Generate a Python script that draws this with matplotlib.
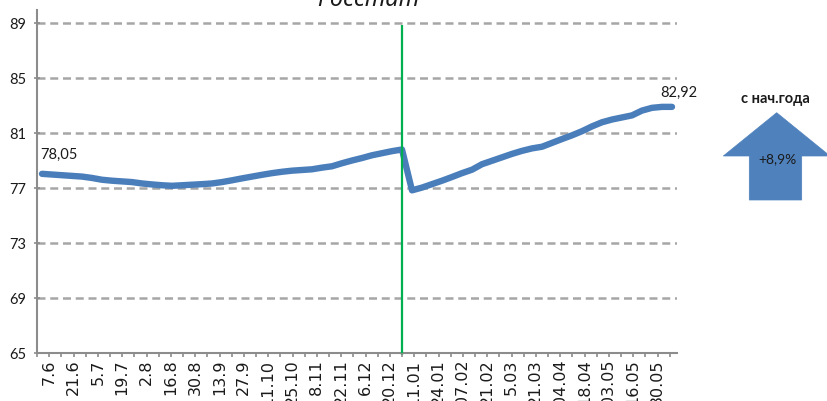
import numpy as np
import matplotlib
matplotlib.use("Agg")
import matplotlib.pyplot as plt
from matplotlib import font_manager as fm
from matplotlib.patches import Polygon

# ---------------- data ----------------
cat_labels = ["7.6", "21.6", "5.7", "19.7", "2.8", "16.8", "30.8", "13.9", "27.9",
              "11.10", "25.10", "8.11", "22.11", "6.12", "20.12", "11.01", "24.01",
              "07.02", "21.02", "5.03", "21.03", "04.04", "18.04", "03.05", "16.05",
              "30.05"]

values = [78.05, 78.00, 77.95, 77.90, 77.85, 77.75, 77.62, 77.55, 77.50, 77.45,
          77.35, 77.28, 77.22, 77.18, 77.22, 77.26, 77.30, 77.35, 77.45, 77.58,
          77.72, 77.85, 77.98, 78.10, 78.20, 78.28, 78.33, 78.38, 78.50, 78.60,
          78.82, 79.02, 79.20, 79.40, 79.55, 79.70, 79.82,
          76.85, 77.05, 77.30, 77.55, 77.82, 78.10, 78.35, 78.75, 79.00,
          79.25, 79.50, 79.72, 79.90, 80.02, 80.30, 80.58, 80.85, 81.15,
          81.50, 81.80, 82.00, 82.15, 82.30, 82.65, 82.85, 82.92, 82.92]

year_break_index = 36
yticks = [65, 69, 73, 77, 81, 85, 89]
title = "Росстат"
arrow_title = "с нач.года"
arrow_value = "+8,9%"

# ---------------- fonts ----------------
names = {f.name for f in fm.fontManager.ttflist}
NARROW = "Liberation Sans Narrow" if "Liberation Sans Narrow" in names else "Lato"
WIDE = "DejaVu Sans"

LINE_BLUE = "#4A7EBB"
ARROW_BLUE = "#4F81BD"
GRID = "#A6A6A6"
AXIS = "#8C8C8C"

W, H = 828, 401
fig = plt.figure(figsize=(W / 100, H / 100), dpi=100)
fig.patch.set_facecolor("white")

def fx(px):
    return px / W

def fy(py):
    return 1 - py / H

left, right, top, bottom = 37, 677, 9.5, 353.3
ax = fig.add_axes([fx(left), fy(bottom), fx(right - left), (bottom - top) / H])
ax.set_xlim(-0.5, len(values) - 0.5)
ax.set_ylim(65, 90)

# category axis (labels + tick marks) on a twin x-axis
axc = ax.twiny()
axc.set_xlim(0, 52.6)
axc.xaxis.set_ticks_position("bottom")
axc.xaxis.set_label_position("bottom")
for s in axc.spines.values():
    s.set_visible(False)
axc.set_xticks(np.arange(0, 53), minor=True)
axc.set_xticks(np.arange(len(cat_labels)) * 2 + 1)
axc.set_xticklabels(cat_labels, rotation=90, fontsize=11.5, family=WIDE,
                    va="top", ha="center", color="#1a1a1a")
axc.tick_params(axis="x", which="minor", direction="out", length=3, width=1.2,
                color=AXIS)
axc.tick_params(axis="x", which="major", length=3, width=1.2, color=AXIS, pad=1.5)

# y axis + grid
ax.set_yticks(yticks)
ax.yaxis.grid(True, color=GRID, linewidth=1.8, linestyle=(0, (3.2, 1.9)))
ax.set_axisbelow(True)
ax.tick_params(axis="y", direction="inout", length=5, width=1.2, color=AXIS,
               pad=5, labelsize=10.5, labelcolor="#1a1a1a")
for lab in ax.get_yticklabels():
    lab.set_fontfamily(NARROW)
ax.tick_params(axis="x", bottom=False, labelbottom=False)
for s in ["top", "right"]:
    ax.spines[s].set_visible(False)
for s in ["left", "bottom"]:
    ax.spines[s].set_color(AXIS)
    ax.spines[s].set_linewidth(1.5)

# main line
x = np.arange(len(values))
ax.plot(x, values, color=LINE_BLUE, lw=4.6, solid_capstyle="round",
        solid_joinstyle="round", zorder=3)

# year break line
ax.vlines(year_break_index, 64.85, 88.9, color="#00B050", lw=1.6, zorder=4,
          clip_on=False)

# value labels
fmt = lambda v: f"{v:.2f}".replace(".", ",")
ax.annotate(fmt(values[0]), xy=(0, values[0]), xytext=(-1, 14),
            textcoords="offset points", ha="left", va="center",
            fontsize=10.5, family=NARROW, color="#1a1a1a")
ax.annotate(fmt(values[-1]), xy=(len(values) - 1, values[-1]), xytext=(-8.6, 10.3),
            textcoords="offset points", ha="left", va="center",
            fontsize=10.5, family=NARROW, color="#1a1a1a")

# title (mostly cut off at the top, as in the source)
fig.text(fx(368), fy(6.5), title, ha="center", va="baseline", fontsize=17,
         style="italic", family=["Noto Sans", "DejaVu Sans"], color="#1a1a1a")

# arrow
pts = [(776.7, 112.7), (830, 156), (801.7, 156), (801.7, 200),
       (749.3, 200), (749.3, 156), (723.3, 156)]
arrow = Polygon([(fx(a), fy(b)) for a, b in pts], closed=True,
                transform=fig.transFigure, facecolor=ARROW_BLUE,
                edgecolor=ARROW_BLUE, lw=0.5, clip_on=False)
fig.patches.append(arrow)
fig.text(fx(777.3), fy(159.3), arrow_value, ha="center", va="center",
         fontsize=10, family=NARROW, color="#1a1a1a")
fig.text(fx(775), fy(99.3), arrow_title, ha="center", va="center",
         fontsize=10.5, family=NARROW, weight="bold", color="#1a1a1a")

fig.savefig("out.png", dpi=100)
